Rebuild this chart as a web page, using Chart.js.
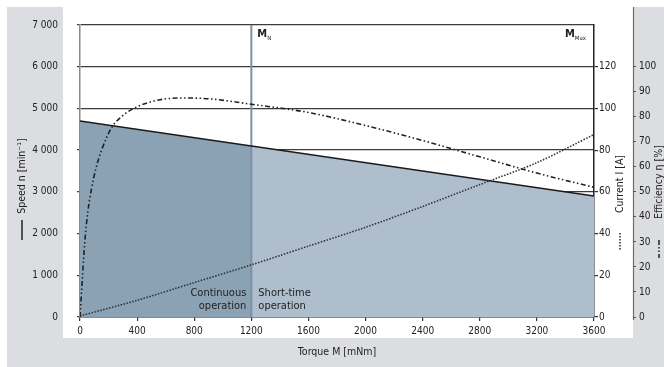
<!DOCTYPE html>
<html>
<head>
<meta charset="utf-8">
<script src="https://cdn.jsdelivr.net/npm/chart.js@4.4.1/dist/chart.umd.min.js"></script>
<style>
  html, body { margin: 0; padding: 0; background: #fff; }
  canvas { display: block; }
</style>
</head>
<body>
<canvas id="motorChart" width="664" height="367"></canvas>
<script>
// Kennlinien des Motors
const speedTorque = [0, 1200, 3600];
const speedValues = [4700, 4100, 2900];

const currentTorque = [0, 400, 800, 1200, 1600, 2000, 2400, 2800, 3200, 3600];
const currentValues = [0.5, 8, 16.5, 25, 34, 43, 53, 63.5, 74, 87.5];

const effTorque = [0, 15, 35, 55, 80, 110, 150, 220, 300, 400, 560, 720, 900, 1200, 1600, 2000, 2400, 2800, 3200, 3600];
const effValues = [0, 14, 31, 42, 51, 59, 66.5, 75.5, 80.5, 84, 86.8, 87.5, 87.2, 85, 81.7, 76.5, 70.5, 64, 57.5, 51.8];

const ratedTorque = 1200;   // M_N
const torqueMax = 3600;     // M_Max
const speedMax = 7000;
const currentMax = 140;     // gleiche Teilung wie Drehzahl (20 A = 1000 min-1)
const effMax = 700 / 6;     // 100 % liegt auf 6000 min-1

const FONT = "'DejaVu Sans Condensed', 'Liberation Sans', sans-serif";
Chart.defaults.font.family = FONT;
Chart.defaults.font.size = 10;
Chart.defaults.font.weight = 'normal';
Chart.defaults.color = '#222';

const pts = (xs, ys) => xs.map((x, i) => ({ x: x, y: ys[i] }));
const speedPts = pts(speedTorque, speedValues);

// Hintergrund, Achsentitel und Beschriftungen
const decor = {
    id: 'decor',
    beforeDraw(chart) {
        const c = chart.ctx;
        c.save();
        c.fillStyle = '#ffffff';
        c.fillRect(0, 0, chart.width, chart.height);
        c.fillStyle = '#dcdde0';
        c.fillRect(7, 7, 657, 360);
        c.fillStyle = '#ffffff';
        c.fillRect(63, 7, 570, 331);
        c.strokeStyle = '#6e6e6e';
        c.lineWidth = 1.2;
        c.beginPath();
        c.moveTo(633.5, 7);
        c.lineTo(633.5, 320);
        c.stroke();
        c.restore();
    },
    afterDraw(chart) {
        const c = chart.ctx;
        const xs = chart.scales.x;
        const area = chart.chartArea;
        const xN = xs.getPixelForValue(ratedTorque);
        c.save();
        c.fillStyle = '#222';
        c.textBaseline = 'middle';

        // Achsentitel gedreht
        const rot = (txt, x, y) => {
            c.save();
            c.translate(x, y);
            c.rotate(-Math.PI / 2);
            c.textAlign = 'center';
            c.fillText(txt, 0, 0);
            c.restore();
        };
        c.font = '10.5px ' + FONT;
        rot('Speed n [min\u207B\u00B9]', 22, 176);
        rot('Current I [A]', 620, 184);
        rot('Efficiency \u03B7 [%]', 659, 182);

        c.textAlign = 'center';
        c.fillText('Torque M [mNm]', (area.left + area.right) / 2, 352);

        // Linienmuster neben den Titeln
        c.strokeStyle = '#222';
        c.lineWidth = 1.5;
        c.beginPath(); c.moveTo(22, 220); c.lineTo(22, 240); c.stroke();
        c.setLineDash([1.5, 1.5]);
        c.beginPath(); c.moveTo(620, 233); c.lineTo(620, 250); c.stroke();
        c.setLineDash([5, 2, 1.5, 2, 1.5, 2]);
        c.beginPath(); c.moveTo(659, 240); c.lineTo(659, 258); c.stroke();
        c.setLineDash([]);

        // Betriebsbereiche
        c.font = '11px ' + FONT;
        c.textAlign = 'right';
        c.fillText('Continuous', xN - 5, 293);
        c.fillText('operation', xN - 5, 306);
        c.textAlign = 'left';
        c.fillText('Short-time', xN + 7, 293);
        c.fillText('operation', xN + 7, 306);

        // M_N und M_Max
        c.textBaseline = 'alphabetic';
        c.font = 'bold 11px ' + FONT;
        c.fillText('M', xN + 6, 37);
        let w = c.measureText('M').width;
        c.font = '6px ' + FONT;
        c.fillText('N', xN + 6 + w, 40);

        c.font = '6px ' + FONT;
        const sub = c.measureText('Max').width;
        const xR = area.right - 8;
        c.fillText('Max', xR - sub, 40);
        c.font = 'bold 11px ' + FONT;
        c.textAlign = 'right';
        c.fillText('M', xR - sub, 37);
        c.restore();
    }
};

const ctx = document.getElementById('motorChart').getContext('2d');
const motorChart = new Chart(ctx, {
    type: 'line',
    data: {
        datasets: [
            {
                // Dauerbetrieb
                data: speedPts.filter(p => p.x <= ratedTorque),
                yAxisID: 'y',
                borderWidth: 0,
                pointRadius: 0,
                fill: 'origin',
                backgroundColor: '#8ba2b5',
                order: 6
            },
            {
                // Kurzzeitbetrieb
                data: speedPts.filter(p => p.x >= ratedTorque),
                yAxisID: 'y',
                borderWidth: 0,
                pointRadius: 0,
                fill: 'origin',
                backgroundColor: '#afbecd',
                order: 6
            },
            {
                // M_N Linie
                data: [{ x: ratedTorque, y: 0 }, { x: ratedTorque, y: speedMax }],
                yAxisID: 'y',
                borderColor: '#7a92a8',
                borderWidth: 2,
                pointRadius: 0,
                order: 5
            },
            {
                label: 'Speed',
                data: speedPts,
                yAxisID: 'y',
                borderColor: '#1a1a1a',
                borderWidth: 1.5,
                pointRadius: 0,
                order: 3
            },
            {
                label: 'Current',
                data: pts(currentTorque, currentValues),
                yAxisID: 'yCur',
                borderColor: '#333',
                borderWidth: 1.6,
                borderDash: [1.5, 1.5],
                pointRadius: 0,
                tension: 0.3,
                order: 2
            },
            {
                label: 'Efficiency',
                data: pts(effTorque, effValues),
                yAxisID: 'yEff',
                borderColor: '#222',
                borderWidth: 1.6,
                borderDash: [5, 2.5, 1.5, 2.5, 1.5, 2.5],
                pointRadius: 0,
                cubicInterpolationMode: 'monotone',
                order: 1
            }
        ]
    },
    options: {
        responsive: false,
        animation: false,
        devicePixelRatio: 1,
        layout: { padding: { top: 24, left: 0, right: 0, bottom: 0 } },
        plugins: {
            legend: { display: false },
            tooltip: { enabled: false }
        },
        scales: {
            x: {
                type: 'linear',
                min: 0,
                max: torqueMax,
                ticks: { stepSize: 400, padding: 4, maxRotation: 0, callback: v => String(v) },
                grid: { drawOnChartArea: false, tickLength: 4, color: '#333', lineWidth: 1.2 },
                border: { color: '#444', width: 1.5 },
                afterFit(s) { s.height = 50; }
            },
            y: {
                min: 0,
                max: speedMax,
                z: 1,
                ticks: {
                    stepSize: 1000,
                    padding: 19,
                    callback: v => v === 0 ? '0' : (v / 1000) + ' 000'
                },
                grid: { color: '#3c3c3c', lineWidth: 1.3, tickLength: 3 },
                border: { color: '#8a8a8a', width: 1.5 },
                afterFit(s) { s.width = 80; }
            },
            yCur: {
                position: 'right',
                min: 0,
                max: currentMax,
                ticks: { stepSize: 20, padding: 1 },
                afterBuildTicks(s) { s.ticks = s.ticks.filter(t => t.value <= 120); },
                grid: { drawOnChartArea: false, tickLength: 4, color: '#333', lineWidth: 1.2 },
                border: { color: '#222', width: 1.5 },
                afterFit(s) { s.width = 39; }
            },
            yEff: {
                position: 'right',
                min: 0,
                max: effMax,
                ticks: { stepSize: 10, padding: 3 },
                afterBuildTicks(s) { s.ticks = s.ticks.filter(t => t.value <= 100); },
                grid: { drawOnChartArea: false, tickLength: 3, color: '#555', lineWidth: 1 },
                border: { display: false },
                afterFit(s) { s.width = 31; }
            }
        }
    },
    plugins: [decor]
});
</script>
</body>
</html>
